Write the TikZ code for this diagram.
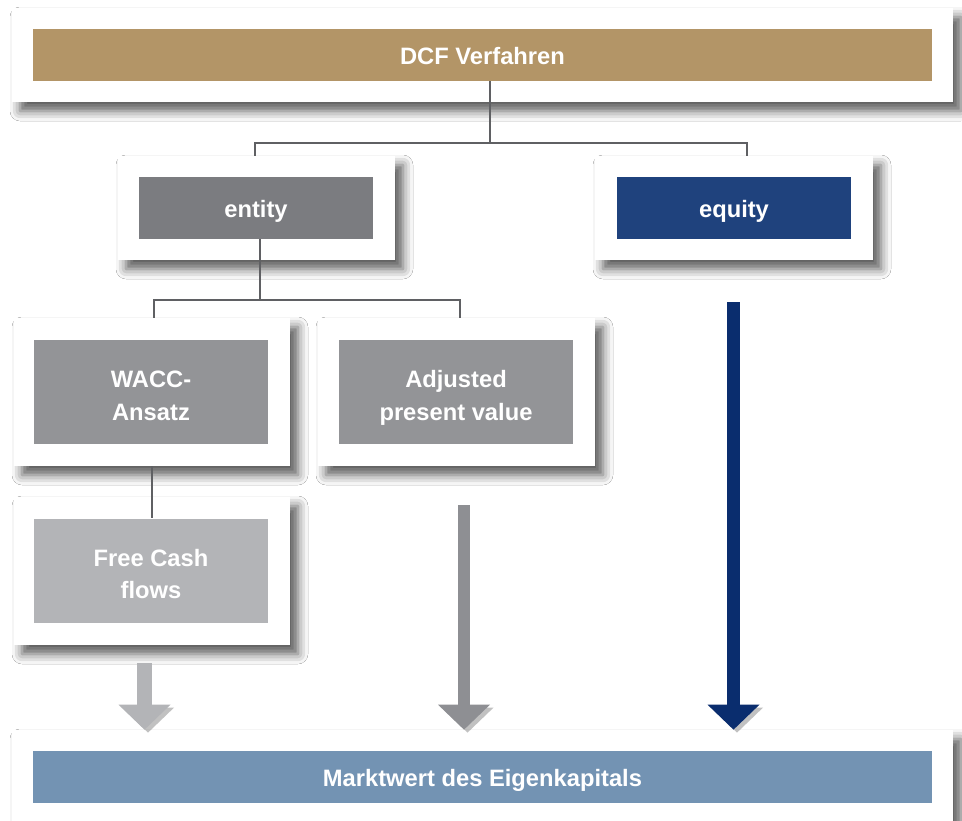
\documentclass[tikz,border=0pt]{standalone}
\usepackage{fontspec}
\setmainfont{Liberation Sans}
\usepackage{tikz}
\usetikzlibrary{%
  positioning,%
  calc,%
  arrows.meta,%
  shadows.blur%
}
\definecolor{dcfgold}{HTML}{B39567}
\definecolor{entgray}{HTML}{7B7C80}
\definecolor{eqblue}{HTML}{1F427D}
\definecolor{midgray}{HTML}{939497}
\definecolor{lightgray}{HTML}{B3B4B7}
\definecolor{mwblue}{HTML}{7393B3}
\definecolor{arrowblue}{HTML}{0A2D6E}
\definecolor{arrowgray}{HTML}{8E8F93}
\definecolor{linegray}{HTML}{5F6063}

\tikzset{
  card/.style={fill=white, inner sep=0pt,
    blur shadow={shadow xshift=0.16cm, shadow yshift=-0.18cm,
      shadow blur radius=0.2cm, shadow opacity=65}},
  bar/.style={text=white, inner sep=0pt, align=center,
    text height=13pt, text depth=2pt,
    font=\bfseries\fontsize{13.5}{18.5}\selectfont},
  twoline/.style={text height=33pt, text depth=1pt},
  conn/.style={draw=linegray, line width=1pt},
  fat/.style={line width=#1,
    -{Triangle[width=1.04cm, length=0.5cm, line width=0pt 0 0]},
    preaction={draw=black!60, opacity=0.4,
      transform canvas={shift={(0.07cm,-0.06cm)}}}}
}

\begin{document}
\begin{tikzpicture}
\clip (0,0) rectangle (19.24,-16.42);
\fill[white] (0,0) rectangle (19.24,-16.42);

% cards
\node[card, minimum width=18.82cm, minimum height=1.88cm] (dcfc) at (9.65,-1.10) {};
\node[card, minimum width=5.54cm, minimum height=2.08cm] (entityc) at (5.13,-4.16) {};
\node[card, minimum width=5.56cm, minimum height=2.08cm] (equityc) at (14.68,-4.16) {};
\node[card, minimum width=5.52cm, minimum height=2.96cm] (waccc) at (3.04,-7.84) {};
\node[card, minimum width=5.54cm, minimum height=2.96cm] (apvc) at (9.13,-7.84) {};
\node[card, minimum width=5.52cm, minimum height=2.96cm] (fcfc) at (3.04,-11.42) {};
\node[card, minimum width=18.82cm, minimum height=2.2cm] (mwc) at (9.65,-15.70) {};

% bars
\node[bar, fill=dcfgold, minimum width=17.98cm, minimum height=1.04cm] (dcf) at (9.65,-1.10) {DCF Verfahren};
\node[bar, fill=entgray, minimum width=4.68cm, minimum height=1.24cm] (entity) at (5.12,-4.16) {entity};
\node[bar, fill=eqblue, minimum width=4.68cm, minimum height=1.24cm] (equity) at (14.68,-4.16) {equity};
\node[bar, twoline, fill=midgray, minimum width=4.68cm, minimum height=2.08cm] (wacc) at (3.02,-7.84) {WACC-\\Ansatz};
\node[bar, twoline, fill=midgray, minimum width=4.68cm, minimum height=2.08cm] (apv) at (9.12,-7.84) {Adjusted\\present value};
\node[bar, twoline, fill=lightgray, minimum width=4.68cm, minimum height=2.08cm] (fcf) at (3.02,-11.41) {Free Cash\\flows};
\node[bar, fill=mwblue, minimum width=17.98cm, minimum height=1.04cm] (mw) at (9.65,-15.54) {Marktwert des Eigenkapitals};

% tree lines
\draw[conn] ([xshift=0.15cm]dcf.south) -- ++(0,-1.24) coordinate (j1);
\draw[conn] ([xshift=-0.03cm]entityc.north) |- (j1) -| ([xshift=0.26cm]equityc.north);
\draw[conn] ([xshift=0.08cm]entity.south) -- ++(0,-1.22) coordinate (j2);
\draw[conn] ([xshift=0.04cm]waccc.north) |- (j2) -| ([xshift=0.07cm]apvc.north);
\draw[conn] (waccc.south) -- (waccc.south |- fcf.north);

% arrows
\coordinate (a1) at (2.89,-13.26);
\coordinate (a2) at (9.28,-10.10);
\coordinate (a3) at (14.67,-6.04);
\draw
	(a1) edge[fat=0.3cm, draw=lightgray] (a1 |- mwc.north)
	(a2) edge[fat=0.24cm, draw=arrowgray] (a2 |- mwc.north)
	(a3) edge[fat=0.26cm, draw=arrowblue] (a3 |- mwc.north)
;
\end{tikzpicture}
\end{document}
